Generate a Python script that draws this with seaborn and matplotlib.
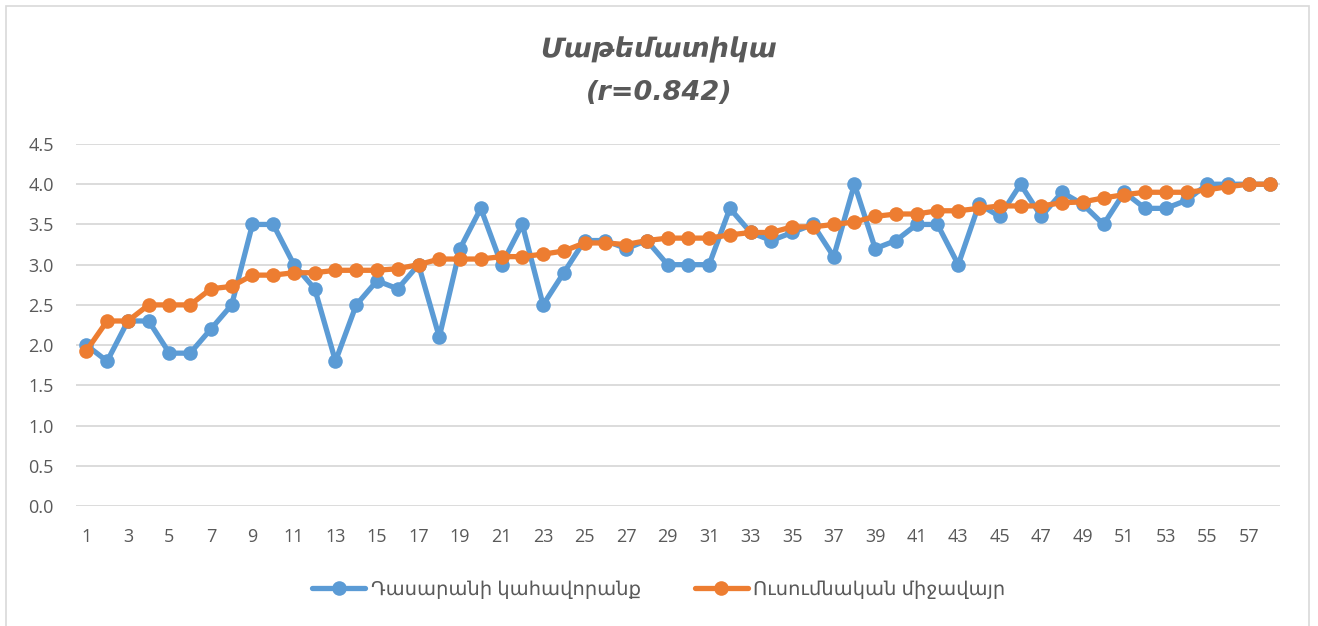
import numpy as np
import pandas as pd
import matplotlib
matplotlib.use("Agg")
import matplotlib.pyplot as plt
from matplotlib.patches import Rectangle
import seaborn as sns

# ---- data ----
title_line1 = "Մաթեմատիկա"
title_line2 = "(r=0.842)"
series_names = ["Դասարանի կահավորանք", "Ուսումնական միջավայր"]
positions = list(range(1, 59))
classroom = [2.0, 1.8, 2.3, 2.3, 1.9, 1.9, 2.2, 2.5, 3.5, 3.5,
             3.0, 2.7, 1.8, 2.5, 2.8, 2.7, 3.0, 2.1, 3.2, 3.7,
             3.0, 3.5, 2.5, 2.9, 3.3, 3.3, 3.2, 3.3, 3.0, 3.0,
             3.0, 3.7, 3.4, 3.3, 3.4, 3.5, 3.1, 4.0, 3.2, 3.3,
             3.5, 3.5, 3.0, 3.75, 3.6, 4.0, 3.6, 3.9, 3.75, 3.5,
             3.9, 3.7, 3.7, 3.8, 4.0, 4.0, 4.0, 4.0]
environment = [1.93, 2.3, 2.3, 2.5, 2.5, 2.5, 2.7, 2.73, 2.87, 2.87,
               2.9, 2.9, 2.93, 2.93, 2.93, 2.95, 3.0, 3.07, 3.07, 3.07,
               3.1, 3.1, 3.13, 3.17, 3.27, 3.27, 3.25, 3.3, 3.33, 3.33,
               3.33, 3.37, 3.4, 3.4, 3.47, 3.47, 3.5, 3.53, 3.6, 3.63,
               3.63, 3.67, 3.67, 3.7, 3.73, 3.73, 3.73, 3.77, 3.78, 3.83,
               3.87, 3.9, 3.9, 3.9, 3.93, 3.97, 4.0, 4.0]
x_ticks = list(range(1, 59, 2))
y_ticks = [0.0, 0.5, 1.0, 1.5, 2.0, 2.5, 3.0, 3.5, 4.0, 4.5]

df = pd.DataFrame({
    "pos": positions * 2,
    "value": classroom + environment,
    "series": [series_names[0]] * len(positions) + [series_names[1]] * len(positions),
})

sns.set_theme(style="white")
plt.rcParams["font.family"] = ["Open Sans", "DejaVu Sans"]

W, H = 1318, 626
fig = plt.figure(figsize=(W / 100, H / 100), dpi=100)
ax = fig.add_axes([76 / W, 1 - 506 / H, (1280 - 76) / W, (506 - 144) / H])

text_col = "#595959"
palette = {series_names[0]: "#5B9BD5", series_names[1]: "#ED7D31"}

sns.lineplot(data=df, x="pos", y="value", hue="series", palette=palette,
             hue_order=series_names, marker="o", markersize=10.5,
             markeredgewidth=0, linewidth=3.8, ax=ax, legend=True,
             zorder=3)

ax.set_xlim(0.5, 58.5)
ax.set_ylim(0, 4.5)
ax.set_xticks(x_ticks)
ax.set_xticklabels([str(t) for t in x_ticks])
ax.set_yticks(y_ticks)
ax.set_yticklabels([f"{t:.1f}" for t in y_ticks])
ax.set_xlabel("")
ax.set_ylabel("")
for s in ax.spines.values():
    s.set_visible(False)
ax.yaxis.grid(True, color="#D9D9D9", linewidth=1.3, zorder=0)
ax.xaxis.grid(False)
ax.set_axisbelow(True)
ax.tick_params(axis="both", length=0, labelsize=13, labelcolor=text_col)
ax.tick_params(axis="y", pad=16)
ax.tick_params(axis="x", pad=16)

# legend at bottom center
handles, labels = ax.get_legend_handles_labels()
ax.legend_.remove()
leg = fig.legend(handles, labels, loc="center", bbox_to_anchor=(0.5, 1 - 590 / H),
                 ncol=2, frameon=False, fontsize=14, handlelength=2.7,
                 handletextpad=0.3, columnspacing=2.8)
for t in leg.get_texts():
    t.set_color(text_col)

# title
fig.text(0.5, 1 - 50 / H, title_line1, ha="center", va="center",
         fontsize=19.5, fontweight="bold", fontstyle="italic", color=text_col,
         family=["DejaVu Sans"])
fig.text(0.5, 1 - 93 / H, title_line2, ha="center", va="center",
         fontsize=19.5, fontweight="bold", fontstyle="italic", color=text_col,
         family=["DejaVu Sans"])

# chart border
fig.patches.append(Rectangle((6 / W, -0.05), (1309 - 6) / W, 1.05 - 6 / H,
                             transform=fig.transFigure, fill=False,
                             edgecolor="#D9D9D9", linewidth=1.2))

fig.savefig("out.png", dpi=100)
